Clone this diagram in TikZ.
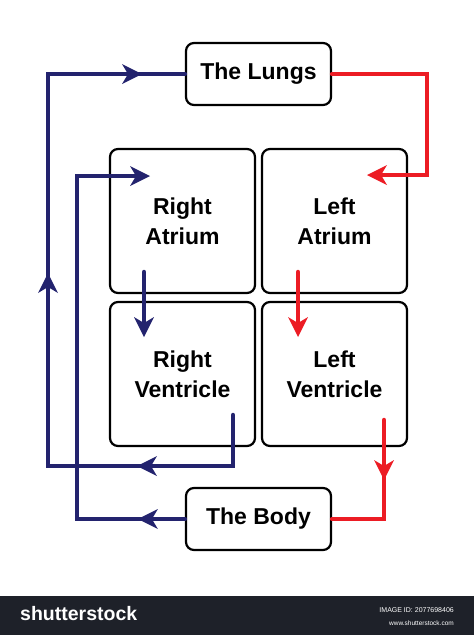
\documentclass[tikz,border=0pt]{standalone}
\usepackage{fontspec}
\setmainfont{Liberation Sans}
\usepackage{tikz}
\usetikzlibrary{arrows.meta}
\usetikzlibrary{decorations.markings}
\definecolor{venous}{HTML}{23236E}
\definecolor{arterial}{HTML}{EC1C24}
\definecolor{stockbar}{HTML}{1E2129}
\tikzset{flow/.tip={Stealth[length=20pt,width=20pt,inset=6pt,line width=0pt]}}

\begin{document}
\begin{tikzpicture}[x=1pt,y=-1pt,
  chamber/.style={draw,line width=2.2pt,rounded corners=8pt,minimum width=145pt,minimum height=144pt,align=center,font=\bfseries\fontsize{23}{30}\selectfont},
  organ/.style={chamber,minimum height=62pt},
  venous line/.style={draw=venous,line width=4.5pt,line cap=round},
  arterial line/.style={draw=arterial,line width=4.5pt,line cap=round},
  along/.style={postaction={decorate,decoration={markings,mark=at position #1 with {\arrow{flow}}}}}]
\useasboundingbox (0,0) rectangle (474,635);
% boxes
\node[organ] (lungs) at (258.5,74) {The Lungs};
\node[chamber] (ra) at (182.5,221) {Right\\Atrium};
\node[chamber] (la) at (334.5,221) {Left\\Atrium};
\node[chamber] (rv) at (182.5,374) {Right\\Ventricle};
\node[chamber] (lv) at (334.5,374) {Left\\Ventricle};
\node[organ] (body) at (258.5,519) {The Body};
% ends and bends of the flow lines
\coordinate (raout) at (144,272);  \coordinate (rvin) at (144,337);
\coordinate (laout) at (298,272);  \coordinate (lvin) at (298,337);
\coordinate (rvout) at (233,415);  \coordinate (lvout) at (384,420);
\coordinate (outerbend) at (48,466);
\coordinate (innerbend) at (77,176); \coordinate (rain) at (150,176);
\coordinate (redbend) at (427,175);  \coordinate (lain) at (367,175);
% blood without oxygen
\draw[venous line,along=147pt,along=429pt,along=722pt] (rvout) |- (outerbend) |- (lungs.west);
\draw[venous line,along=47pt,-{flow}] (body.west) -| (innerbend) -- (rain);
\draw[venous line,-{flow}] (raout) -- (rvin);
% blood with oxygen
\draw[arterial line,-{flow}] (lungs.east) -| (redbend) -- (lain);
\draw[arterial line,-{flow}] (laout) -- (lvin);
\draw[arterial line,along=60pt] (lvout) |- (body.east);
% stock bar
\fill[stockbar] (0,596) rectangle (474,635);
\node[anchor=west,text=white,font=\bfseries\fontsize{19.5}{20}\selectfont,inner sep=0pt] (brand) at (20,614) {shutterstock};
\node[anchor=east,text=white,font=\fontsize{7}{8}\selectfont,inner sep=0pt] (imageid) at (454,610) {IMAGE ID: 2077698406};
\node[anchor=east,text=white,font=\fontsize{6.5}{8}\selectfont,inner sep=0pt] (website) at (454,623) {www.shutterstock.com};
\end{tikzpicture}
\end{document}
